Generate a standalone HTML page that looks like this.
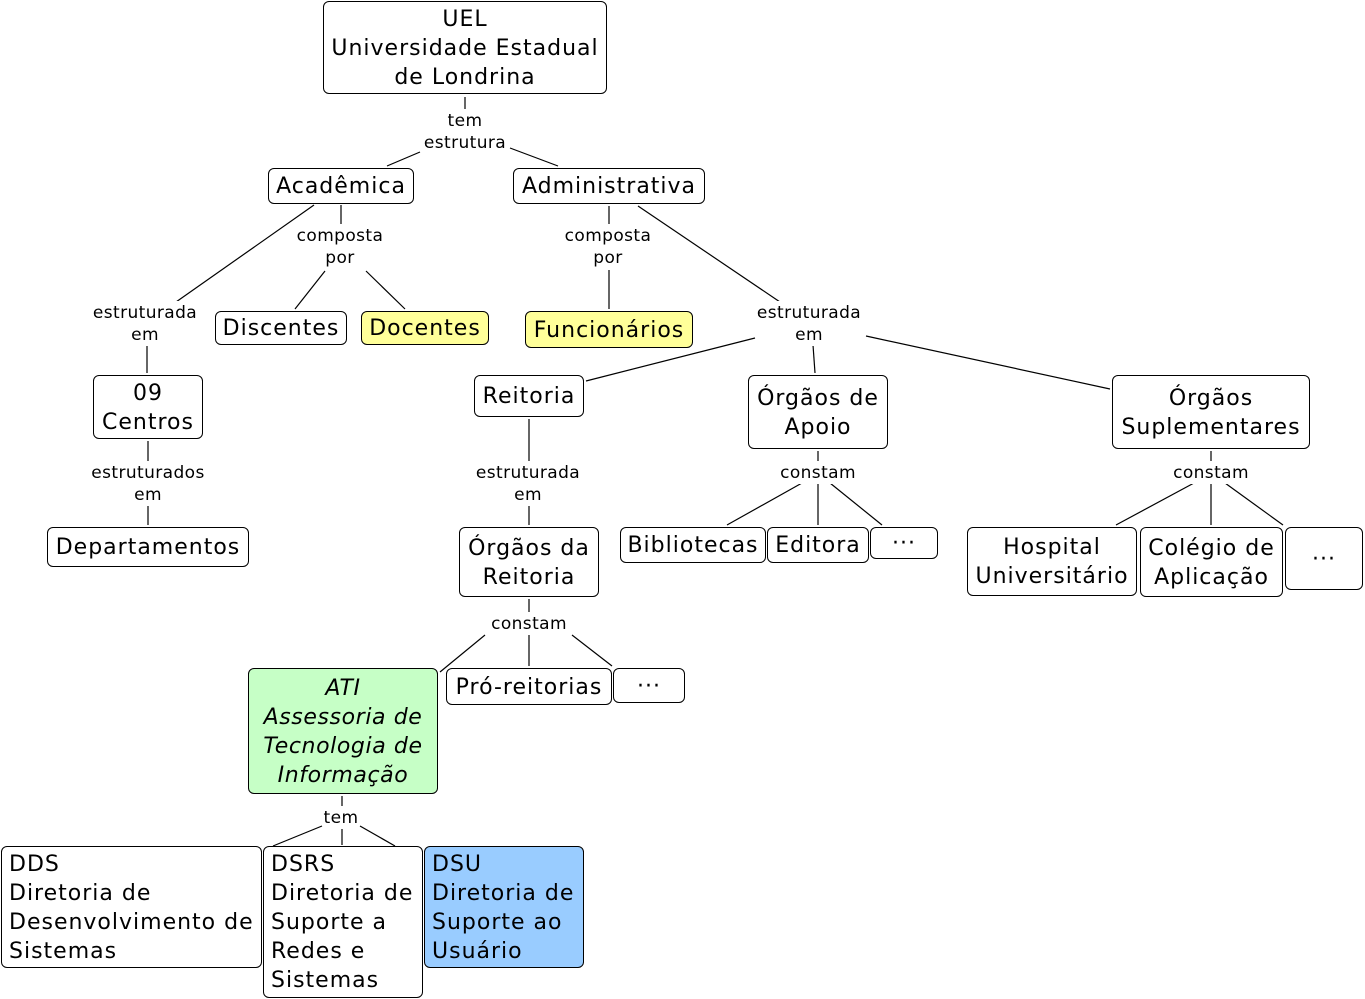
<!DOCTYPE html>
<html><head><meta charset="utf-8"><style>
body{margin:0;width:1365px;height:999px;background:#fff;position:relative;overflow:hidden;font-family:"DejaVu Sans","Liberation Sans",sans-serif;}
.n{position:absolute;box-sizing:border-box;border:1px solid #000;border-radius:6px;background:#fff;display:flex;align-items:center;justify-content:center;text-align:center;font-size:22px;line-height:29px;color:#000;letter-spacing:1px;padding-top:1px;}
.l{position:absolute;font-size:17px;line-height:22px;text-align:center;transform:translateX(-50%);white-space:nowrap;background:#fff;letter-spacing:0.4px;padding-top:1px;}
.left{justify-content:flex-start;text-align:left;padding-left:7px;align-items:flex-start;}
svg{position:absolute;left:0;top:0;}
</style></head><body>
<svg width="1365" height="999" stroke="#000" stroke-width="1.2" fill="none">
<line x1="465" y1="97" x2="465" y2="111"/>
<line x1="420" y1="152" x2="387" y2="166"/>
<line x1="510" y1="148" x2="558" y2="166"/>
<line x1="341" y1="205" x2="341" y2="225"/>
<line x1="325" y1="271" x2="295" y2="309"/>
<line x1="366" y1="271" x2="405" y2="309"/>
<line x1="314" y1="205" x2="176" y2="302"/>
<line x1="147" y1="345" x2="147" y2="373"/>
<line x1="148" y1="441" x2="148" y2="462"/>
<line x1="148" y1="505" x2="148" y2="525"/>
<line x1="609" y1="206" x2="609" y2="225"/>
<line x1="609" y1="270" x2="609" y2="309"/>
<line x1="638" y1="206" x2="780" y2="302"/>
<line x1="755" y1="338" x2="586" y2="381"/>
<line x1="813" y1="345" x2="815" y2="373"/>
<line x1="866" y1="336" x2="1110" y2="389"/>
<line x1="529" y1="419" x2="529" y2="462"/>
<line x1="529" y1="505" x2="529" y2="525"/>
<line x1="818" y1="451" x2="818" y2="463"/>
<line x1="802" y1="483" x2="727" y2="525"/>
<line x1="818" y1="483" x2="818" y2="525"/>
<line x1="830" y1="483" x2="882" y2="525"/>
<line x1="1211" y1="451" x2="1211" y2="463"/>
<line x1="1194" y1="483" x2="1116" y2="525"/>
<line x1="1211" y1="483" x2="1211" y2="525"/>
<line x1="1225" y1="483" x2="1283" y2="525"/>
<line x1="529" y1="599" x2="529" y2="614"/>
<line x1="485" y1="635" x2="440" y2="672"/>
<line x1="529" y1="635" x2="529" y2="666"/>
<line x1="572" y1="635" x2="612" y2="666"/>
<line x1="342" y1="796" x2="342" y2="808"/>
<line x1="322" y1="826" x2="273" y2="846"/>
<line x1="342" y1="828" x2="342" y2="845"/>
<line x1="360" y1="826" x2="395" y2="846"/>
</svg>
<div class="l" style="left:465px;top:109px">tem<br>estrutura</div>
<div class="l" style="left:340px;top:224px">composta<br>por</div>
<div class="l" style="left:608px;top:224px">composta<br>por</div>
<div class="l" style="left:145px;top:301px">estruturada<br>em</div>
<div class="l" style="left:809px;top:301px">estruturada<br>em</div>
<div class="l" style="left:148px;top:461px">estruturados<br>em</div>
<div class="l" style="left:528px;top:461px">estruturada<br>em</div>
<div class="l" style="left:818px;top:461px">constam</div>
<div class="l" style="left:1211px;top:461px">constam</div>
<div class="l" style="left:529px;top:612px">constam</div>
<div class="l" style="left:341px;top:806px">tem</div>

<div class="n" style="left:323px;top:1px;width:284px;height:93px">UEL<br>Universidade Estadual<br>de Londrina</div>
<div class="n" style="left:268px;top:168px;width:146px;height:36px">Acadêmica</div>
<div class="n" style="left:513px;top:168px;width:192px;height:36px">Administrativa</div>
<div class="n" style="left:215px;top:311px;width:132px;height:34px">Discentes</div>
<div class="n" style="left:361px;top:311px;width:128px;height:34px;background:#ffff99">Docentes</div>
<div class="n" style="left:525px;top:311px;width:168px;height:37px;background:#ffff99">Funcionários</div>
<div class="n" style="left:93px;top:375px;width:110px;height:64px">09<br>Centros</div>
<div class="n" style="left:47px;top:527px;width:202px;height:40px">Departamentos</div>
<div class="n" style="left:474px;top:375px;width:110px;height:42px">Reitoria</div>
<div class="n" style="left:748px;top:375px;width:140px;height:74px">Órgãos de<br>Apoio</div>
<div class="n" style="left:1112px;top:375px;width:198px;height:74px">Órgãos<br>Suplementares</div>
<div class="n" style="left:459px;top:527px;width:140px;height:70px">Órgãos da<br>Reitoria</div>
<div class="n" style="left:620px;top:527px;width:146px;height:36px">Bibliotecas</div>
<div class="n" style="left:767px;top:527px;width:102px;height:36px">Editora</div>
<div class="n" style="left:870px;top:527px;width:68px;height:32px">···</div>
<div class="n" style="left:967px;top:527px;width:170px;height:69px">Hospital<br>Universitário</div>
<div class="n" style="left:1140px;top:527px;width:143px;height:70px">Colégio de<br>Aplicação</div>
<div class="n" style="left:1285px;top:527px;width:78px;height:63px">···</div>
<div class="n" style="left:248px;top:668px;width:190px;height:126px;background:#c6ffc6;font-style:italic;letter-spacing:0.6px">ATI<br>Assessoria de<br>Tecnologia de<br>Informação</div>
<div class="n" style="left:446px;top:668px;width:166px;height:37px">Pró-reitorias</div>
<div class="n" style="left:613px;top:668px;width:72px;height:35px">···</div>
<div class="n left" style="left:1px;top:846px;width:261px;height:122px;padding-top:3px">DDS<br>Diretoria de<br>Desenvolvimento de<br>Sistemas</div>
<div class="n left" style="left:263px;top:846px;width:160px;height:152px;padding-top:3px">DSRS<br>Diretoria de<br>Suporte a<br>Redes e<br>Sistemas</div>
<div class="n left" style="left:424px;top:846px;width:160px;height:122px;padding-top:3px;background:#99ccff">DSU<br>Diretoria de<br>Suporte ao<br>Usuário</div>
</body></html>
